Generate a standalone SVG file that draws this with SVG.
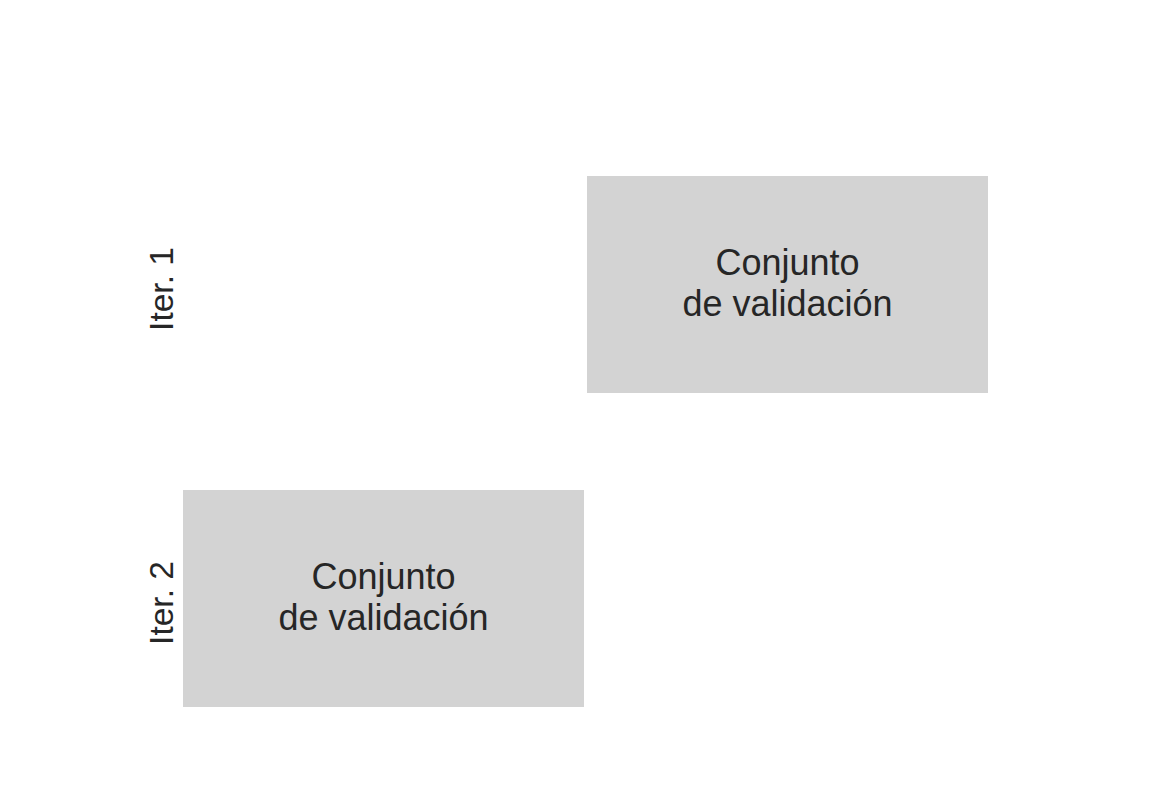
<svg xmlns="http://www.w3.org/2000/svg" width="1170" height="791" viewBox="0 0 1170 791">
<style>
.box{fill:#d3d3d3;stroke:none}
.t{font-family:"Liberation Sans",Arial,sans-serif;font-size:36px;fill:#262626;text-anchor:middle}
.lbl{font-family:"Liberation Sans",Arial,sans-serif;font-size:33.5px;fill:#262626;text-anchor:middle}
</style>
<rect width="1170" height="791" fill="#ffffff"/>
<g id="label-iter1"><text class="lbl" transform="translate(173,289) rotate(-90)">Iter. 1</text></g>
<g id="label-iter2"><text class="lbl" transform="translate(173,603) rotate(-90)">Iter. 2</text></g>
<g id="node-val1">
<rect class="box" x="587" y="176" width="401" height="217"/>
<text class="t" x="787.5" y="274.5">Conjunto</text>
<text class="t" x="787.5" y="315.5">de validación</text>
</g>
<g id="node-val2">
<rect class="box" x="183" y="490" width="401" height="217"/>
<text class="t" x="383.5" y="588.5">Conjunto</text>
<text class="t" x="383.5" y="629.5">de validación</text>
</g>
<g id="connectors"></g>
</svg>
